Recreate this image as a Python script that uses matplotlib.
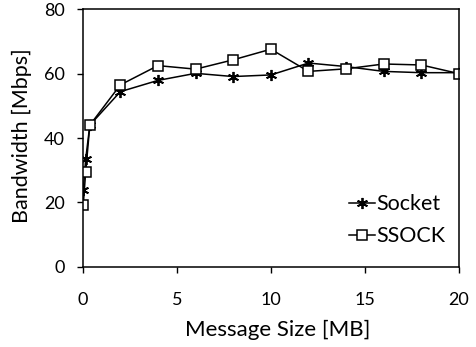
import matplotlib
matplotlib.use("Agg")
import matplotlib.pyplot as plt

plt.rcParams['font.family'] = ['Lato', 'DejaVu Sans']

sizes_mb = [0.03, 0.16, 0.38, 2, 4, 6, 8, 10, 12, 14, 16, 18, 20]
socket = [23.9, 33.4, 44.0, 54.4, 57.9, 60.1, 59.1, 59.6, 63.3, 62.2, 60.7, 60.3, 60.3]
ssock = [19.2, 29.5, 44.0, 56.5, 62.5, 61.4, 64.3, 67.6, 60.7, 61.5, 63.0, 62.7, 60.0]
xticks = [0, 5, 10, 15, 20]
yticks = [0, 20, 40, 60, 80]

fig = plt.figure(figsize=(4.76, 3.47), dpi=100)
ax = fig.add_axes([0.1737, 0.2314, 0.7906, 0.7418])

ax.plot(sizes_mb, socket, color='black', lw=1.1, marker=(6, 2, 0), markersize=8,
        markeredgewidth=1.3, label='Socket')
ax.plot(sizes_mb, ssock, color='black', lw=1.1, marker='s', markersize=7,
        markerfacecolor='white', markeredgecolor='black', markeredgewidth=1.1,
        label='SSOCK')

ax.set_xlim(0, 20)
ax.set_ylim(0, 80)
ax.set_xticks(xticks)
ax.set_yticks(yticks)
ax.tick_params(direction='out', length=4, width=1, labelsize=13, colors='black')
ax.tick_params(axis='x', pad=14)
ax.tick_params(axis='y', pad=9)
for s in ax.spines.values():
    s.set_linewidth(1.1)
    s.set_color('black')

ax.set_xlabel('Message Size [MB]', fontsize=16)
ax.xaxis.set_label_coords(0.518, -0.205)
ax.set_ylabel('Bandwidth [Mbps]', fontsize=15.5)
ax.yaxis.set_label_coords(-0.135, 0.51)

leg = ax.legend(loc='center left', frameon=False, fontsize=15.5, handlelength=1.25,
                handletextpad=0.05, labelspacing=0.55,
                bbox_to_anchor=(0.655, 0.18))

fig.savefig('out.png', dpi=100)
